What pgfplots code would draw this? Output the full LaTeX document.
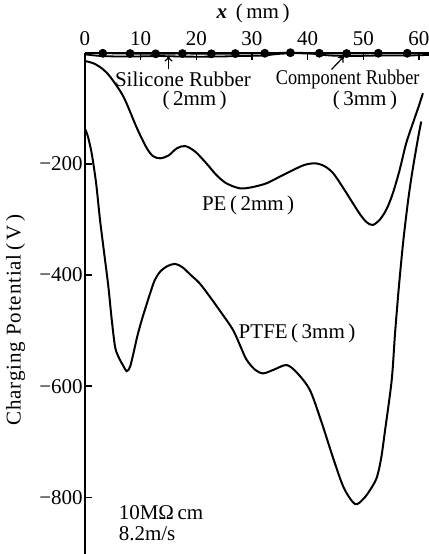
\documentclass[border=0pt]{standalone}
\usepackage{graphicx}
\usepackage{pgfplots}
\pgfplotsset{compat=1.18}
\usetikzlibrary{arrows.meta}
\usepackage{fontspec}
\setmainfont{Liberation Serif}
\newfontfamily\spaced[LetterSpace=4]{Liberation Serif}

% Charging potential along the surface, x in mm, potential in V
\pgfplotstableread{
x    v
0    -15
1.5  -19
3.0  -28
4.5  -43
6.9  -79
9.3  -135
11.0 -170
12.2 -186
13.5 -190
15.0 -185
16.5 -172
18.0 -168
19.8 -178
21.8 -199
23.6 -220
25.4 -235
27.8 -244
30.0 -242
32.6 -235
35.0 -223
37.4 -211
39.4 -202
41.3 -199
43.0 -204
44.6 -217
46.5 -245
48.2 -272
49.5 -292
50.6 -305
51.7 -310
53.0 -300
54.2 -281
55.3 -253
56.5 -212
57.7 -163
58.9 -127
60.0 -95
60.7 -73
}\pe

\pgfplotstableread{
x    v
0    -137
0.5  -150
1.2  -181
2.0  -235
2.7  -301
3.5  -365
4.2  -421
4.8  -480
5.4  -529
6.0  -547
6.8  -562
7.5  -573
8.1  -565
8.7  -541
9.4  -510
10.2 -481
11.0 -455
11.7 -433
12.5 -410
13.5 -394
14.8 -384
16.2 -380
17.5 -386
19.0 -400
20.6 -415
22.5 -440
24.5 -468
26.6 -499
28.0 -530
29.0 -552
30.5 -570
32.0 -577
34.0 -570
36.2 -562
38.0 -575
40.4 -607
42.5 -665
44.6 -730
46.5 -783
48.5 -812
50.0 -803
51.2 -787
52.4 -765
53.2 -730
53.9 -680
55.1 -589
55.7 -505
56.4 -420
57.2 -337
58.1 -262
58.9 -208
59.9 -150
60.4 -124
}\ptfe

\pgfplotstableread{
x    v
0    -3
3    -6
8    -7
13   -6
18   -7
23   -7
28   -6
32   -5
35   -2
38   -1
41   -2
44   -5
48   -6
53   -5
58   -5
61.8 -4
}\silicone

\pgfplotstableread{
x    v
0    -1
3.2  -1
8.1  -1.5
12.7 -2
17.5 -1.5
22.7 -2
27.0 -1.5
32.3 -1
36.9 0
42.1 -1
47.0 -1.5
52.7 -1
57.9 -1
61.8 -1
}\component

\pgfplotstableread{
x    v
3.2  -1
8.1  -1.5
12.7 -2
17.5 -1.5
22.7 -2
27.0 -1.5
32.3 -1
36.9 0
42.1 -1
47.0 -1.5
52.7 -1
57.9 -1
}\componentdots

\begin{document}
\begin{tikzpicture}
\begin{axis}[
  at={(0,0)}, anchor=south west,
  scale only axis, width=172pt, height=250.65pt,
  xmin=0, xmax=61.8, ymin=-902, ymax=0,
  axis x line=top, axis y line=left,
  axis line style={-, line width=1pt},
  xtick={0,10,...,60},
  ytick={-800,-600,-400,-200},
  yticklabels={−800,−600,−400,−200},
  xtick align=inside, ytick align=inside,
  major tick length=3.5pt,
  tick style={line width=0.8pt, black},
  tick label style={font=\fontsize{10.5}{12}\selectfont},
  /pgf/number format/assume math mode=true,
  yticklabel style={inner xsep=1pt},
  clip=false,
]
\addplot[black, line width=1pt, smooth] table {\pe};
\addplot[black, line width=1pt, smooth] table {\ptfe};
\addplot[black, line width=0.9pt, smooth] table {\silicone};
\addplot[black, line width=0.9pt, smooth] table {\component};
\addplot[only marks, mark=*, mark size=2pt, black] table {\componentdots};

\draw[-{To[length=3pt,width=4pt]}, line width=0.6pt] (axis cs:15,-30) -- (axis cs:15,-5);
\draw[-{To[length=3pt,width=4pt]}, line width=0.6pt] (axis cs:44.3,-30) -- (axis cs:46.6,-6);

\begin{scope}[every node/.style={font=\fontsize{10.5}{12}\selectfont}]
\node at (axis cs:17.6,-48) {Silicone Rubber};
\node at (axis cs:19.7,-85) {(\,2mm\,)};
\node at (axis cs:47.2,-48) {\scalebox{0.87}[1]{Component Rubber}};
\node at (axis cs:50.3,-85) {(\,3mm\,)};
\node at (axis cs:29.3,-274) {PE\,(\,2mm\,)};
\node at (axis cs:38.1,-505) {PTFE\,(\,3mm\,)};
\node[anchor=west] at (axis cs:4.8,-827) {10MΩ\,cm};
\node[anchor=west] at (axis cs:4.8,-865) {8.2m/s};
\node[yshift=19.5pt] at (axis cs:30.2,0) {\textbf{\textit{x}}\ \,(\,mm\,)};
\node[rotate=90] at ([xshift=-34.7pt]axis cs:0,-481) {\spaced Charging Potential\,(\,V\,)};
\end{scope}
\end{axis}
\pgfresetboundingbox
\path (-42.5pt,0pt) rectangle (172pt,277pt);
\end{tikzpicture}
\end{document}
